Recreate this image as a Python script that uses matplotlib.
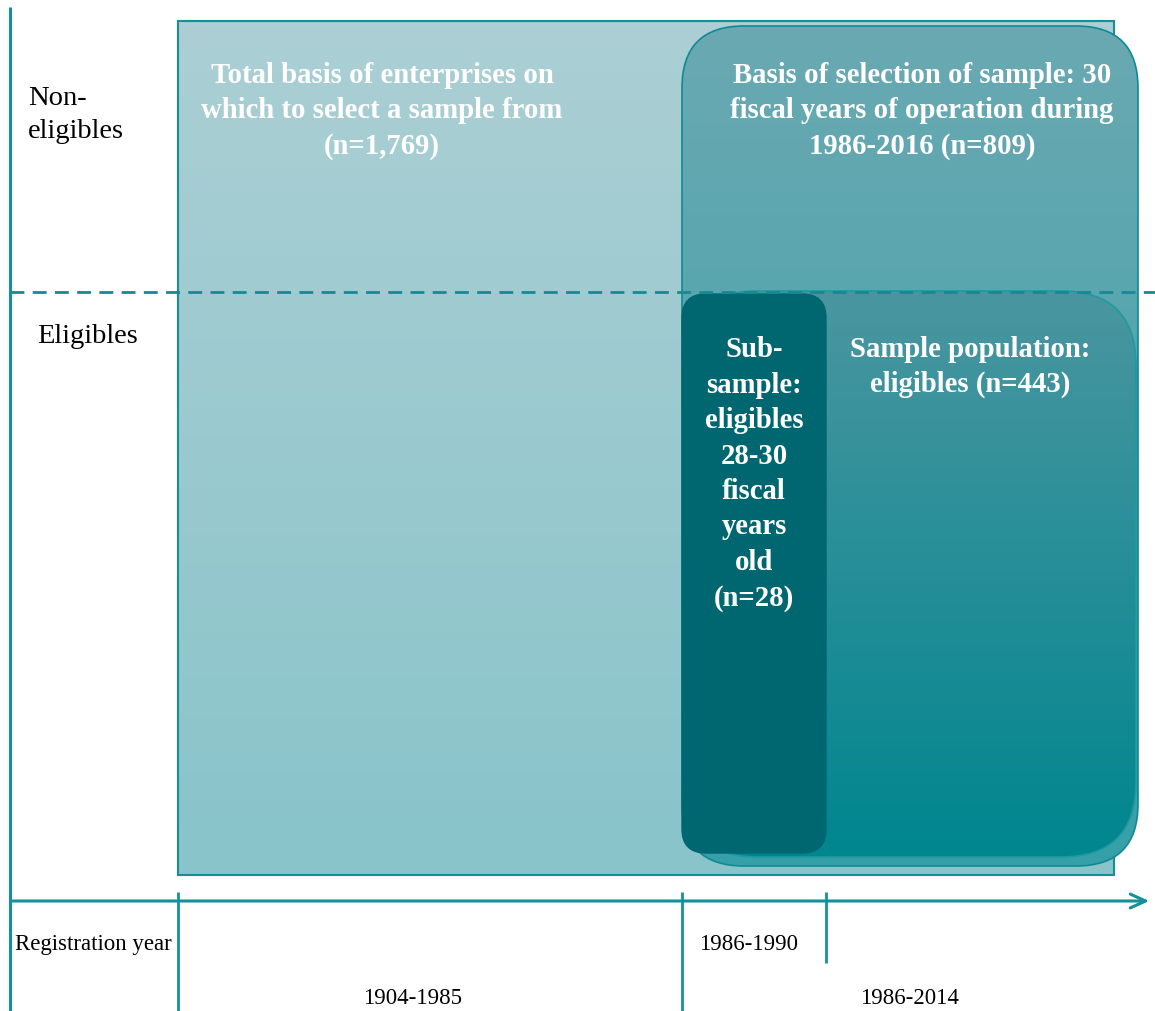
import matplotlib
matplotlib.use("Agg")
import matplotlib.pyplot as plt
import numpy as np
from matplotlib.patches import FancyBboxPatch, Rectangle
from matplotlib.colors import LinearSegmentedColormap

# ---- data ----
group_labels = ["Non-\neligibles", "Eligibles"]
axis_title = "Registration year"
period_labels = ["1904-1985", "1986-2014", "1986-1990"]
n_total = 1769
n_basis = 809
n_sample = 443
n_sub = 28
box_texts = [
    f"Total basis of enterprises on\nwhich to select a sample from\n(n={n_total:,})",
    f"Basis of selection of sample: 30\nfiscal years of operation during\n1986-2016 (n={n_basis})",
    f"Sample population:\neligibles (n={n_sample})",
    f"Sub-\nsample:\neligibles\n28-30\nfiscal\nyears\nold\n(n={n_sub})",
]

W, H = 1155, 1012
fig = plt.figure(figsize=(W / 100, H / 100), dpi=100)
ax = fig.add_axes([0, 0, 1, 1])
ax.set_xlim(0, W)
ax.set_ylim(H, 0)
ax.axis("off")

FONT = "Liberation Serif"
TEAL = "#13909a"


def grad_patch(x0, y0, x1, y1, c_top, c_bot, r, edge, z, lw=1.2):
    if r > 0:
        p = FancyBboxPatch((x0, y0), x1 - x0, y1 - y0,
                           boxstyle=f"round,pad=0,rounding_size={r}",
                           facecolor="none", edgecolor=edge, lw=lw, zorder=z + 0.1)
        clip = FancyBboxPatch((x0, y0), x1 - x0, y1 - y0,
                              boxstyle=f"round,pad=0,rounding_size={r}",
                              facecolor="none", edgecolor="none", zorder=z)
    else:
        p = Rectangle((x0, y0), x1 - x0, y1 - y0, facecolor="none",
                      edgecolor=edge, lw=lw, zorder=z + 0.1)
        clip = Rectangle((x0, y0), x1 - x0, y1 - y0, facecolor="none",
                         edgecolor="none", zorder=z)
    ax.add_patch(clip)
    cmap = LinearSegmentedColormap.from_list("g", [c_top, c_bot])
    g = np.linspace(0, 1, 256).reshape(-1, 1)
    im = ax.imshow(g, cmap=cmap, aspect="auto", origin="upper",
                   extent=(x0, x1, y1, y0), zorder=z, interpolation="bilinear")
    im.set_clip_path(clip)
    ax.add_patch(p)


# big rectangle
grad_patch(178, 22, 1114, 876, "#abcfd4", "#88c4ca", 0, TEAL, 1, lw=1.5)
# basis of selection box
grad_patch(682, 27, 1138, 867, "#6aa9b2", "#36a0a8", 62, "#0f8a94", 2)
# sample population box
grad_patch(682, 292, 1136, 858, "#4a96a0", "#00868f", 75, "#1e9aa3", 3)
# sub-sample box
sub = FancyBboxPatch((682, 295), 144, 559,
                     boxstyle="round,pad=0,rounding_size=24",
                     facecolor="#00666f", edgecolor="#00666f", lw=1, zorder=4)
ax.add_patch(sub)

# dashed divider
ax.plot([10, W], [293, 293], color="#158a94", lw=2, ls=(0, (5, 3)), zorder=5)

# axes lines
ax.plot([10, 10], [8, H], color=TEAL, lw=2.2, zorder=6, solid_capstyle="butt")
ax.annotate("", xy=(1152, 902), xytext=(10, 902),
            arrowprops=dict(arrowstyle="->,head_length=1.1,head_width=0.5",
                            color=TEAL, lw=2.2), zorder=6)
for x, ybot in [(178, H), (682, H), (826, 964)]:
    ax.plot([x, x], [893, ybot], color=TEAL, lw=2, zorder=6, solid_capstyle="butt")

# labels
reg = dict(family=FONT, color="black")
ax.text(28, 115, group_labels[0], fontsize=20.5, va="center", ha="left",
        linespacing=1.42, **reg)
ax.text(37, 336, group_labels[1], fontsize=20.5, va="center", ha="left", **reg)
ax.text(15, 945, axis_title, fontsize=16.5, va="center", ha="left", **reg)
ax.text(413, 999, period_labels[0], fontsize=16.5, va="center", ha="center", **reg)
ax.text(909, 999, period_labels[1], fontsize=16.5, va="center", ha="center", **reg)
ax.text(749, 945, period_labels[2], fontsize=16.5, va="center", ha="center", **reg)

bold = dict(fontsize=20.7, family=FONT, weight="bold", color="white",
            ha="center", va="center", linespacing=1.40, zorder=10)
ax.text(382, 111, box_texts[0], **bold)
ax.text(922, 111, box_texts[1], **bold)
ax.text(970, 367, box_texts[2], **bold)
ax.text(754, 474, box_texts[3], **bold)

fig.savefig("out.png", dpi=100)
